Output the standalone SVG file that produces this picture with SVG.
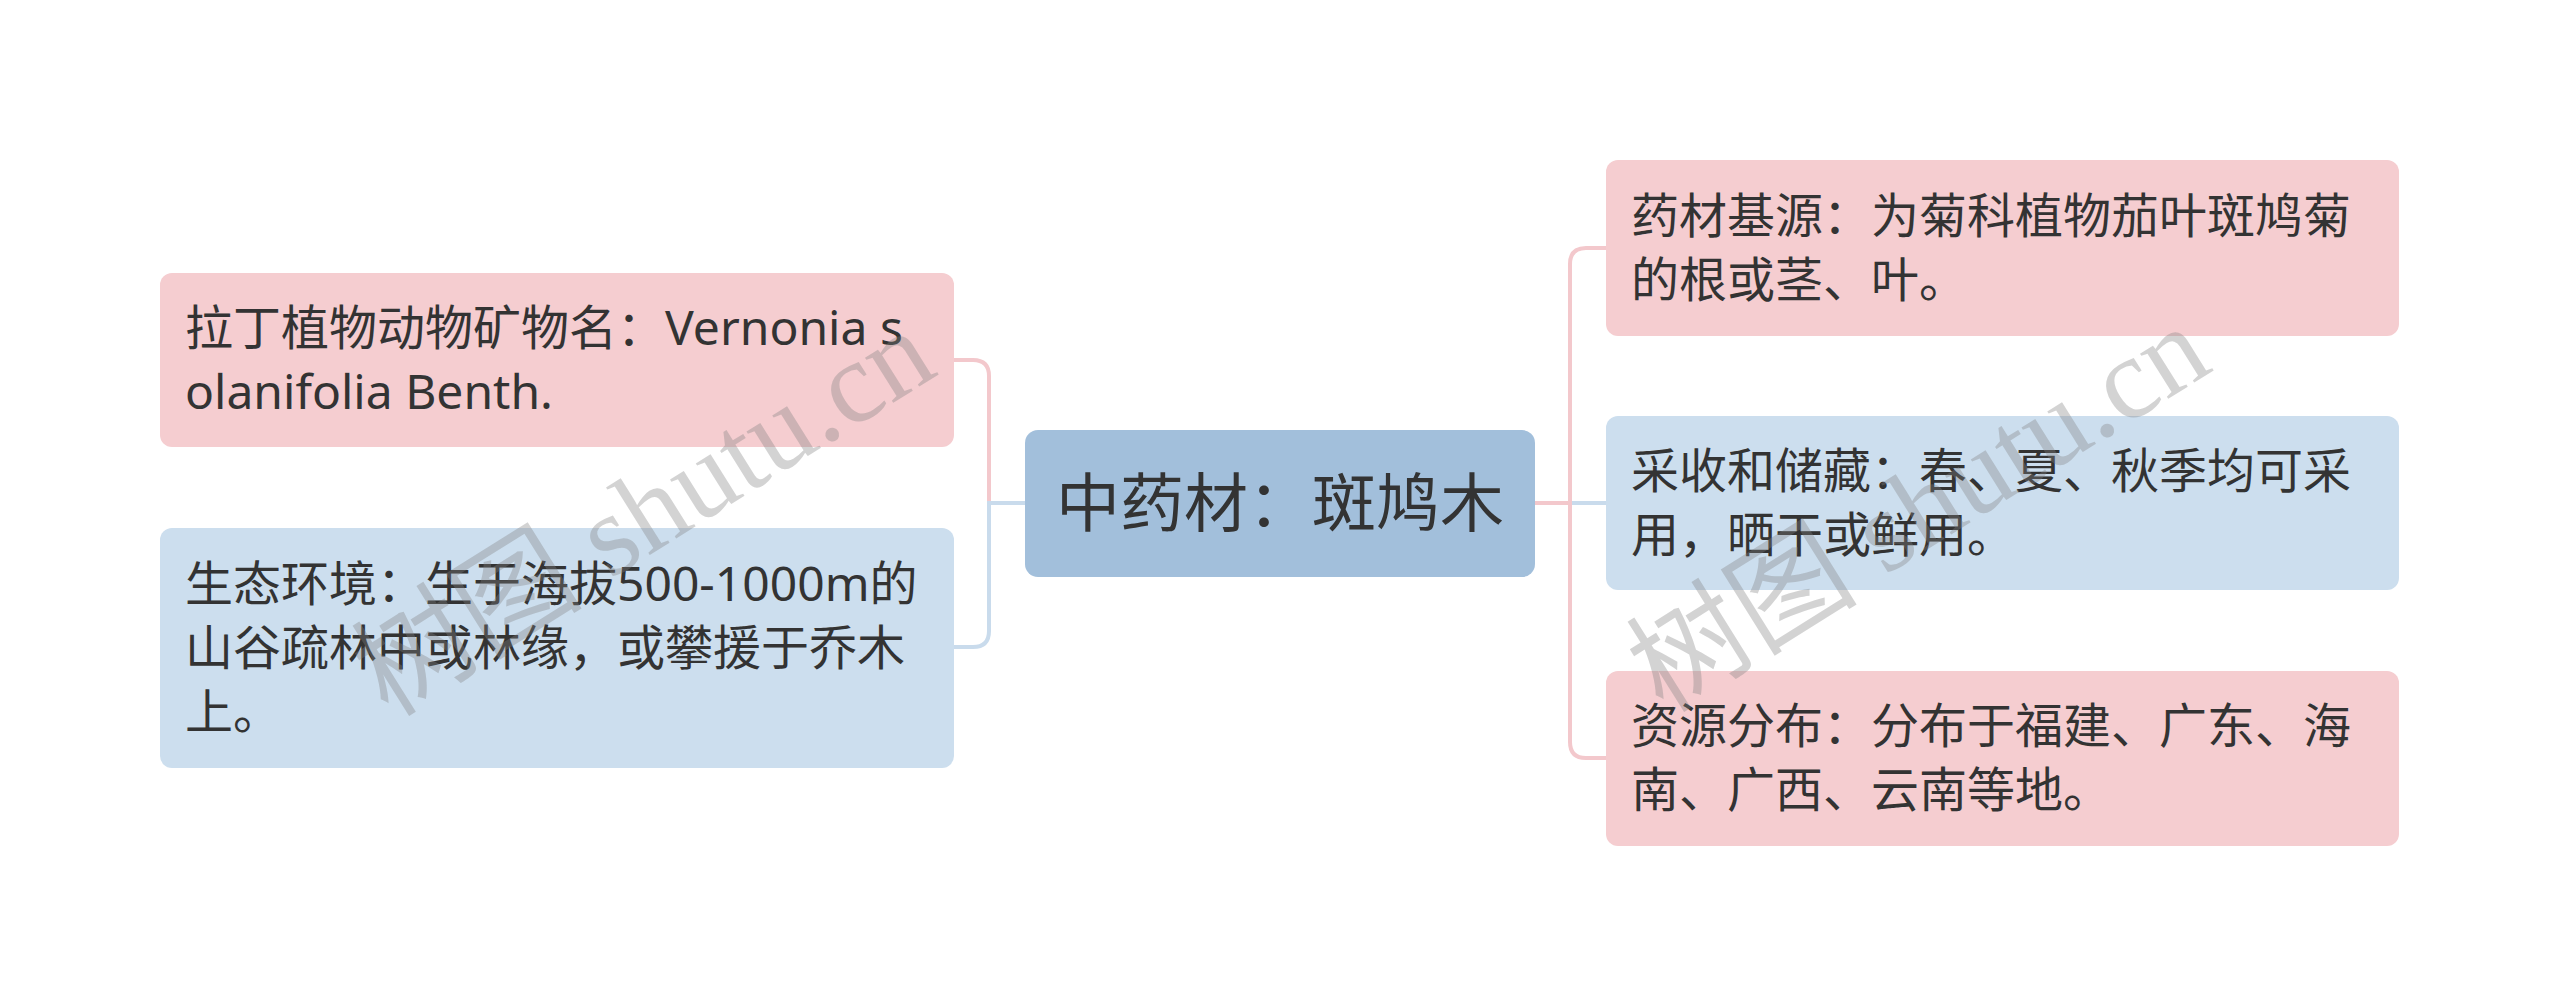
<svg xmlns="http://www.w3.org/2000/svg" width="2560" height="1008" viewBox="0 0 2560 1008">
<style>
.pink{fill:#f5cdd0}
.blue{fill:#ccdeee}
.root{fill:#a2bfdb}
.t{font-family:"Noto Sans","Noto Sans CJK SC",sans-serif;font-size:48px;fill:#333333}
.rt{font-family:"Noto Sans","Noto Sans CJK SC",sans-serif;font-size:64px;fill:#333333}
.cp{fill:none;stroke:#f3c8cc;stroke-width:4}
.cb{fill:none;stroke:#c9dbec;stroke-width:4}
.wm{font-family:"Liberation Serif","Noto Sans CJK SC",serif;font-size:116px;fill:#808080;fill-opacity:0.35}
</style>
<rect width="2560" height="1008" fill="#ffffff"/>
<g id="connectors">
<path class="cb" d="M1535,503 H1606"/>
<path class="cp" d="M1535,503 H1570 V264 Q1570,248 1586,248 H1606"/>
<path class="cp" d="M1535,503 H1570 V742 Q1570,758 1586,758 H1606"/>
<path class="cp" d="M1025,503 H989 V376 Q989,360 973,360 H954"/>
<path class="cb" d="M1025,503 H989 V631 Q989,647 973,647 H954"/>
</g>
<g id="root">
<rect class="root" x="1025" y="430" width="510" height="147" rx="13"/>
<text class="rt" x="1280" y="526" text-anchor="middle">中药材：斑鸠木</text>
</g>
<g id="n-latin">
<rect class="pink" x="160" y="273" width="794" height="174" rx="12"/>
<text class="t"><tspan x="185" y="345">拉丁植物动物矿物名：Vernonia s</tspan><tspan x="185" y="409">olanifolia Benth.</tspan></text>
</g>
<g id="n-eco">
<rect class="blue" x="160" y="528" width="794" height="240" rx="12"/>
<text class="t"><tspan x="185" y="601">生态环境：生于海拔500-1000m的</tspan><tspan x="185" y="665">山谷疏林中或林缘，或攀援于乔木</tspan><tspan x="185" y="729">上。</tspan></text>
</g>
<g id="n-source">
<rect class="pink" x="1606" y="160" width="793" height="176" rx="12"/>
<text class="t"><tspan x="1631" y="233">药材基源：为菊科植物茄叶斑鸠菊</tspan><tspan x="1631" y="297">的根或茎、叶。</tspan></text>
</g>
<g id="n-harvest">
<rect class="blue" x="1606" y="416" width="793" height="174" rx="12"/>
<text class="t"><tspan x="1631" y="488">采收和储藏：春、夏、秋季均可采</tspan><tspan x="1631" y="552">用，晒干或鲜用。</tspan></text>
</g>
<g id="n-dist">
<rect class="pink" x="1606" y="671" width="793" height="175" rx="12"/>
<text class="t"><tspan x="1631" y="743">资源分布：分布于福建、广东、海</tspan><tspan x="1631" y="807">南、广西、云南等地。</tspan></text>
</g>
<g id="watermark">
<text class="wm" text-anchor="middle" transform="translate(643,512) rotate(-32)" y="40">树图 shutu.cn</text>
<text class="wm" text-anchor="middle" transform="translate(1918,508) rotate(-32)" y="40">树图 shutu.cn</text>
</g>
</svg>
